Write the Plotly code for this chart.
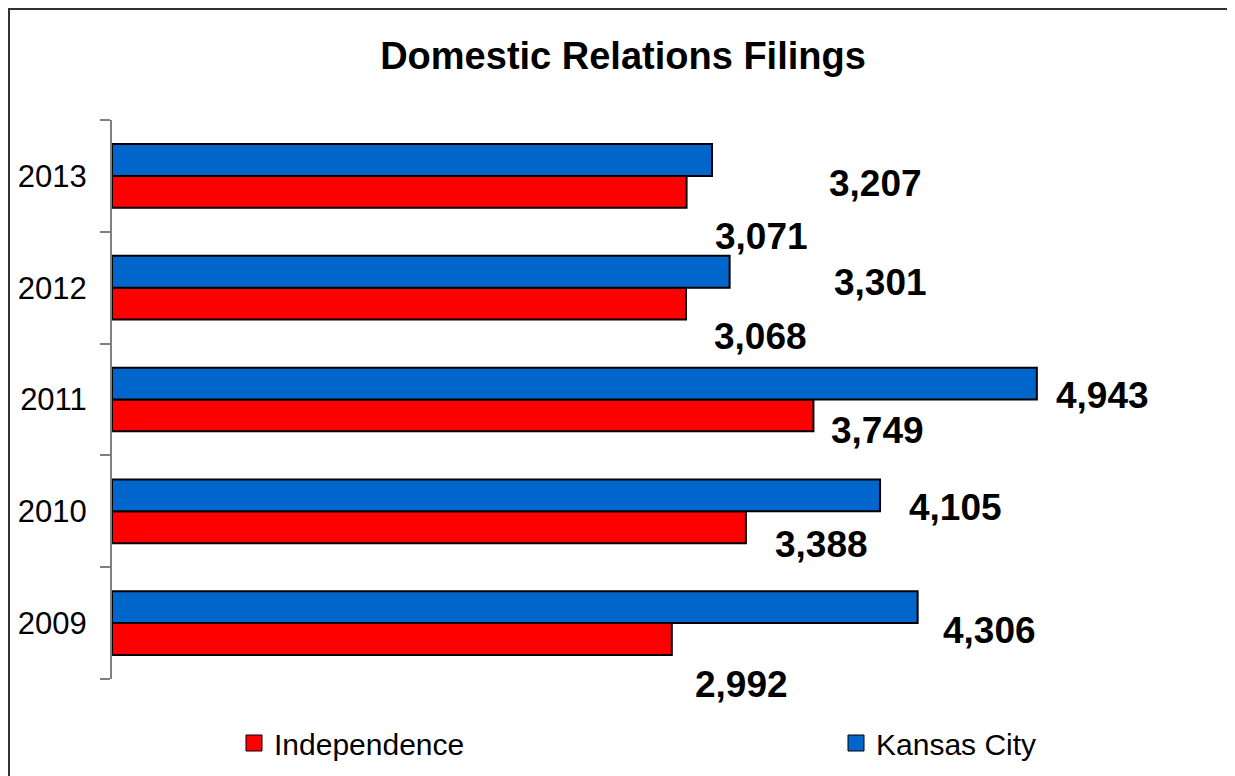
import plotly.graph_objects as go

years = ["2009", "2010", "2011", "2012", "2013"]
independence = [2992, 3388, 3749, 3068, 3071]
kansas_city = [4306, 4105, 4943, 3301, 3207]

# label offsets (px) copied from the odd Excel placement
ind_shift = [(70, -61), (76, -33), (64, -31), (74, -49), (75, -61)]
kc_shift = [(72, -7), (75, 4), (66, 4), (151, 5), (163, -8)]

RED = "#FF0000"
BLUE = "#0066CC"
FONT = "Liberation Sans, Arial, sans-serif"

# page body has an 8px margin, so the figure is 8px smaller than the window
W, H = 1227, 768
L, R, T, B = 104, 15, 112, 97
pw, ph = W - L - R, H - T - B

fig = go.Figure()
fig.add_trace(go.Bar(y=years, x=independence, orientation="h", name="Independence",
                     marker=dict(color=RED, line=dict(color="black", width=2)),
                     showlegend=False))
fig.add_trace(go.Bar(y=years, x=kansas_city, orientation="h", name="Kansas City",
                     marker=dict(color=BLUE, line=dict(color="black", width=2)),
                     showlegend=False))

# legend entries with bigger square symbols, on hidden axes
for name, col, lw in [("Independence", RED, 557), ("Kansas City", BLUE, 200)]:
    fig.add_trace(go.Scatter(x=[None], y=[None], mode="markers", name=name,
                             xaxis="x2", yaxis="y2", legendwidth=lw,
                             marker=dict(symbol="square", size=16, color=col,
                                         line=dict(color="black", width=1))))

anns = []
for vals, shifts in [(independence, ind_shift), (kansas_city, kc_shift)]:
    for i, (v, (dx, dy)) in enumerate(zip(vals, shifts)):
        anns.append(dict(x=v, y=i, xref="x", yref="y", text=f"{v:,}", showarrow=False,
                         xanchor="center", yanchor="middle",
                         xshift=dx, yshift=dy,
                         font=dict(family=FONT, size=37, color="black", weight="bold")))

fig.update_layout(
    width=W, height=H,
    margin=dict(l=L, r=R, t=T, b=B, autoexpand=False),
    paper_bgcolor="white", plot_bgcolor="white",
    font=dict(family=FONT, color="black"),
    title=dict(text="<b>Domestic Relations Filings</b>", x=615 / W, xref="container",
               y=1 - 48 / H, yanchor="middle", xanchor="center",
               font=dict(family=FONT, size=38, color="black")),
    barmode="group", bargap=0.43, bargroupgap=0,
    xaxis=dict(range=[0, pw / 0.1871], visible=False, showgrid=False, zeroline=False),
    yaxis=dict(type="category", categoryorder="array", categoryarray=years,
               range=[-0.5, 4.5], autorange=False, automargin=False,
               showgrid=False, zeroline=False,
               showline=True, linecolor="#808080", linewidth=2,
               ticks="outside", ticklen=10, tickcolor="#808080", tickwidth=2,
               tickson="boundaries", ticklabelstandoff=17,
               tickfont=dict(family=FONT, size=31, color="black")),
    xaxis2=dict(visible=False, overlaying="x", range=[0, 1]),
    yaxis2=dict(visible=False, overlaying="y", range=[0, 1]),
    legend=dict(orientation="h", x=(226 - L) / pw, xanchor="left",
                y=-(735 - (T + ph)) / ph, yanchor="middle",
                font=dict(family=FONT, size=30, color="black"),
                itemsizing="trace", bgcolor="rgba(0,0,0,0)"),
    annotations=anns,
    shapes=[dict(type="rect", xref="paper", yref="paper",
                 x0=(1 - L) / pw, x1=(1225 - L) / pw,
                 y0=-(H + 20 - T - ph) / ph, y1=(T + ph - 1) / ph,
                 line=dict(color="#333333", width=2), layer="below")],
)

fig.write_html("out.html")
